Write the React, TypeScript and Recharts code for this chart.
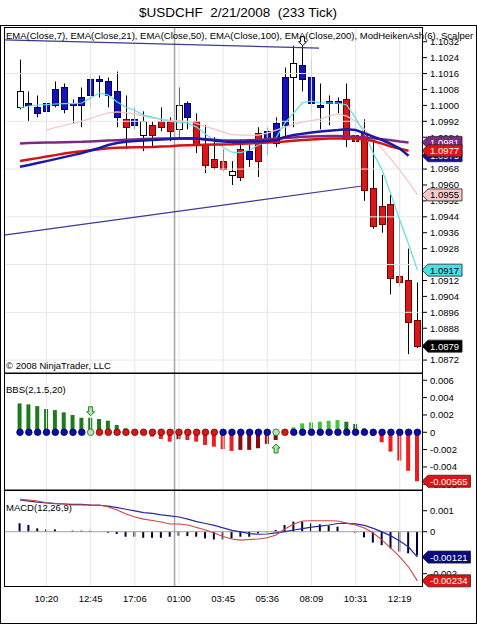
import React from "react";
import { ComposedChart, Bar, Line, XAxis, YAxis, ReferenceLine, ReferenceDot, Cell } from "recharts";

const FONT = "Arial, 'Liberation Sans', Helvetica, sans-serif";
const SMALL = 9.5;

// ── data ─────────────────────────────────────────────────────────
const labelBars = [3, 8, 13, 18, 23, 28, 33, 38, 43];
const timeLabels = ["10:20", "12:45", "17:06", "01:00", "03:45", "05:36", "08:09", "10:31", "12:19"];
const sessionBreaks = [17.5];

const opens = [1.0999, 1.1, 1.0999, 1.0997, 1.1, 1.1009, 1.1, 1.1, 1.1005, 1.1012, 1.1012, 1.1007, 1.0993, 1.099, 1.0985, 1.099, 1.0992, 1.0992, 1.0988, 1.0994, 1.0992, 1.098, 1.0973, 1.0972, 1.0965, 1.0978, 1.0973, 1.0986, 1.0983, 1.0981, 1.099, 1.1014, 1.102, 1.1014, 1.1, 1.1002, 1.1002, 1.1003, 1.0985, 1.0986, 1.0958, 1.0949, 1.095, 1.0914, 1.0912, 1.0892];
const highs = [1.1023, 1.1007, 1.1005, 1.1011, 1.1012, 1.1011, 1.1003, 1.1009, 1.1016, 1.1015, 1.1014, 1.1017, 1.1005, 1.0999, 1.0997, 1.0992, 1.0999, 1.0994, 1.1009, 1.1002, 1.0996, 1.099, 1.0984, 1.0978, 1.0972, 1.0983, 1.098, 1.0989, 1.0989, 1.0994, 1.1019, 1.103, 1.103, 1.1023, 1.1011, 1.1005, 1.1004, 1.1011, 1.0998, 1.0993, 1.0982, 1.0965, 1.0955, 1.0943, 1.0928, 1.0911];
const lows = [1.0998, 1.0992, 1.0994, 1.0988, 1.0999, 1.0996, 1.0991, 1.0989, 1.0999, 1.1004, 1.0999, 1.0989, 1.0978, 1.0988, 1.0977, 1.0979, 1.0987, 1.0982, 1.0984, 1.0988, 1.0976, 1.0966, 1.0968, 1.0967, 1.096, 1.0962, 1.0969, 1.0964, 1.0975, 1.0979, 1.0984, 1.0989, 1.1007, 1.0996, 1.0988, 1.099, 1.0996, 1.0979, 1.098, 1.0952, 1.0938, 1.0936, 1.0905, 1.0909, 1.0875, 1.0878];
const closes = [1.1007, 1.1001, 1.0996, 1.1001, 1.1008, 1.0998, 1.1001, 1.1004, 1.1013, 1.1013, 1.1005, 1.0994, 1.0989, 1.0993, 1.0992, 1.0985, 1.0989, 1.0987, 1.1, 1.1001, 1.098, 1.097, 1.0969, 1.0968, 1.0967, 1.0964, 1.0977, 1.0972, 1.0987, 1.0991, 1.1014, 1.1021, 1.1013, 1.1001, 1.0999, 1.1001, 1.1001, 1.0983, 1.0982, 1.0957, 1.0939, 1.094, 1.0913, 1.0911, 1.0891, 1.0879];
// heiken-ashi colouring: w = neutral, b = up, r = down
const tones = ["w", "b", "b", "b", "b", "b", "b", "b", "b", "b", "b", "b", "r", "b", "w", "r", "r", "r", "w", "b", "r", "r", "r", "r", "w", "r", "b", "r", "b", "b", "b", "w", "b", "b", "b", "b", "b", "r", "r", "r", "r", "r", "r", "r", "r", "r"];

const ema7 = [1.09988, 1.09997, 1.10002, 1.10004, 1.10007, 1.10009, 1.10009, 1.10012, 1.10037, 1.10062, 1.10052, 1.10017, 1.09992, 1.09974, 1.09951, 1.09941, 1.09929, 1.09919, 1.09916, 1.09911, 1.09891, 1.09856, 1.09823, 1.0979, 1.09765, 1.09763, 1.09776, 1.09801, 1.09815, 1.09838, 1.09911, 1.09962, 1.10014, 1.10022, 1.10012, 1.10012, 1.10012, 1.10002, 1.09936, 1.09861, 1.0976, 1.09675, 1.09554, 1.09424, 1.09303, 1.09172];
const ema21 = [null, null, null, 1.09876, 1.09889, 1.09899, 1.09909, 1.09921, 1.09934, 1.09949, 1.09962, 1.09967, 1.09964, 1.09957, 1.09946, 1.09936, 1.09931, 1.09926, 1.09924, 1.09919, 1.09909, 1.09894, 1.09881, 1.09866, 1.09853, 1.09851, 1.09851, 1.09851, 1.09861, 1.09876, 1.09891, 1.09906, 1.09916, 1.09924, 1.09931, 1.09946, 1.09957, 1.09946, 1.09921, 1.09881, 1.09831, 1.09781, 1.0973, 1.09675, 1.09615, 1.0955];
const ema50 = [1.09692, 1.097, 1.0971, 1.0972, 1.0973, 1.0974, 1.0975, 1.0976, 1.09773, 1.09786, 1.09801, 1.09811, 1.09817, 1.09821, 1.09823, 1.09826, 1.09828, 1.09831, 1.09833, 1.09835, 1.09833, 1.09828, 1.09823, 1.09818, 1.09816, 1.09816, 1.09818, 1.09818, 1.09821, 1.09826, 1.09841, 1.09851, 1.09858, 1.09864, 1.09869, 1.09873, 1.09876, 1.0988, 1.09876, 1.09861, 1.09843, 1.09826, 1.09806, 1.09783, 1.09747, null];
const ema100 = [1.0972, 1.09728, 1.09735, 1.09743, 1.0975, 1.09758, 1.09764, 1.09769, 1.09775, 1.0978, 1.09784, 1.09787, 1.09788, 1.09789, 1.0979, 1.09791, 1.09793, 1.09795, 1.09798, 1.098, 1.09801, 1.09802, 1.09803, 1.09804, 1.09805, 1.09807, 1.09809, 1.09811, 1.09813, 1.09815, 1.09818, 1.09822, 1.09826, 1.09829, 1.09831, 1.09833, 1.09834, 1.09835, 1.09833, 1.09828, 1.09821, 1.09808, 1.09793, 1.09782, 1.09772, null];
const ema200 = [1.09809, 1.09811, 1.09812, 1.09813, 1.09814, 1.09815, 1.09816, 1.09817, 1.09819, 1.09821, 1.09823, 1.09825, 1.09827, 1.09829, 1.09831, 1.09832, 1.09833, 1.09834, 1.09834, 1.09834, 1.09833, 1.0983, 1.09827, 1.09824, 1.09823, 1.09823, 1.09825, 1.09827, 1.0983, 1.09833, 1.09836, 1.09839, 1.09842, 1.09844, 1.09845, 1.09846, 1.09846, 1.09845, 1.09843, 1.09839, 1.09835, 1.0983, 1.09825, 1.09819, 1.09814, null];

// drawn trend lines: [bar, price] pairs
const upperTrend = [[-1.81, 1.10329], [33.86, 1.10288]];
const lowerTrend = [[-1.81, 1.09348], [38.73, 1.09595]];
const priceSignals = [{ bar: 32, dir: "down" }];

const bbs = [0.00333, 0.00322, 0.00302, 0.00268, 0.00256, 0.0023, 0.00199, 0.00168, 0.00168, 0.00153, 0.00133, 0.00084, 0.00046, 0.00005, -0.0001, -0.0005, -0.00077, -0.00108, -0.0008, -0.00089, -0.00108, -0.00146, -0.00166, -0.00195, -0.00215, -0.00203, -0.00203, -0.00184, -0.00134, -0.00089, 0, 0.00057, 0.00103, 0.00115, 0.00122, 0.00133, 0.00141, 0.00122, 0.00095, 0.00046, -0.00043, -0.00115, -0.00223, -0.00326, -0.00445, -0.00565];
// squeeze dots: b = blue, g = fired, r = red
const squeeze = ["b", "b", "b", "b", "b", "b", "b", "b", "g", "r", "r", "r", "r", "r", "r", "r", "r", "r", "r", "r", "r", "r", "r", "b", "b", "b", "b", "b", "b", "g", "r", "b", "b", "b", "b", "b", "b", "b", "b", "b", "b", "b", "b", "b", "b", "b"];
const bbsSignals = [{ bar: 8, dir: "down" }, { bar: 29, dir: "up" }];

const macd = [0.00154, 0.00151, 0.00146, 0.00138, 0.00134, 0.00132, 0.00127, 0.00127, 0.00127, 0.00127, 0.00118, 0.00103, 0.00084, 0.0007, 0.0006, 0.00053, 0.00046, 0.00037, 0.00037, 0.00032, 0.0002, 0.00008, -0.00006, -0.00023, -0.00035, -0.0004, -0.00037, -0.00035, -0.00029, -0.00016, 0.00013, 0.00037, 0.00051, 0.00052, 0.00052, 0.00052, 0.00051, 0.00041, 0.00032, 0.00018, -0.00006, -0.0004, -0.00078, -0.0012, -0.00168, -0.00234];
const signal = [0.00151, 0.00146, 0.00141, 0.00137, 0.00134, 0.00132, 0.0013, 0.0013, 0.00127, 0.00126, 0.00122, 0.00115, 0.00107, 0.00099, 0.00091, 0.00087, 0.0008, 0.00075, 0.0007, 0.0006, 0.00048, 0.00039, 0.0003, 0.00018, 0.00006, -0.00001, -0.00009, -0.00012, -0.00011, -0.00006, 0, 0.00008, 0.00015, 0.00022, 0.00027, 0.00032, 0.00039, 0.0004, 0.00037, 0.0003, 0.00016, -0.00001, -0.0002, -0.00044, -0.00073, -0.00121];
const hist = [0.0004, 0.00032, 0.00016, 0.00011, 0.00011, 0, 0.00005, 0.00005, 0.00005, 0, -0.00005, -0.00011, -0.00024, -0.00024, -0.00029, -0.00029, -0.00029, -0.00024, -0.00019, -0.00021, -0.00024, -0.00032, -0.00037, -0.00037, -0.00032, -0.00024, -0.00024, -0.00008, -0.00003, 0.00008, 0.00032, 0.00048, 0.00048, 0.0004, 0.00035, 0.0003, 0.00024, 0, -0.00005, -0.00027, -0.00052, -0.00064, -0.0008, -0.00095, -0.00103, -0.00113];

// labels that the value tags fully cover are left out, as on the original
const priceTicks = [1.1032, 1.1024, 1.1016, 1.1008, 1.1, 1.0992, 1.0984, 1.0968, 1.096, 1.0952, 1.0944, 1.0936, 1.0928, 1.0912, 1.0904, 1.0896, 1.0888, 1.0872];
const priceGrid = [1.1016, 1.0992, 1.0968, 1.0944, 1.092, 1.0896, 1.0872];
const bbsTicks = [0.006, 0.004, 0.002, 0, -0.002, -0.004, -0.006];
const macdTicks = [0.001, 0, -0.002];

// ── layout ───────────────────────────────────────────────────────
const W = 477;
const AXIS_W = 55;
const X_DOMAIN = [-1.81, 45.52];
const MARGIN = { top: 0, right: 0, bottom: 0, left: 4 };

const rows = opens.map((o, i) => ({
  i, o, h: highs[i], l: lows[i], c: closes[i], range: [lows[i], highs[i]], tone: tones[i],
  ema7: ema7[i], ema21: ema21[i], ema50: ema50[i], ema100: ema100[i], ema200: ema200[i],
  bbs: bbs[i], sq: squeeze[i], zero: 0,
  macd: macd[i], signal: signal[i], hist: hist[i],
}));

const lastOf = (arr: (number | null)[]) => {
  for (let k = arr.length - 1; k >= 0; k--) if (arr[k] != null) return arr[k] as number;
  return 0;
};

const CANDLE: Record<string, { fill: string; stroke: string }> = {
  w: { fill: "#ffffff", stroke: "#000000" },
  b: { fill: "#1212b8", stroke: "#00005a" },
  r: { fill: "#d81818", stroke: "#760000" },
};
const SQUEEZE: Record<string, { fill: string; stroke: string }> = {
  b: { fill: "#0c0ca8", stroke: "#000060" },
  g: { fill: "#b4e6b4", stroke: "#2a6a2a" },
  r: { fill: "#d21a1a", stroke: "#7a0000" },
};

function Candle(props: any) {
  const { x, y, width, height, payload } = props;
  if (!payload || x == null || y == null) return null;
  const top = Math.min(y, y + height);
  const span = Math.abs(height);
  const { o, h, l, c, tone } = payload;
  const k = h > l ? span / (h - l) : 0;
  const yOf = (v: number) => top + (h - v) * k;
  const cx = Math.round(x + width / 2) + 0.5;
  const bTop = yOf(Math.max(o, c));
  const bBot = yOf(Math.min(o, c));
  const s = CANDLE[tone];
  return (
    <g>
      <line x1={cx} x2={cx} y1={top} y2={top + span} stroke="#000" strokeWidth={1} />
      <rect x={cx - 3} y={bTop} width={6} height={Math.max(bBot - bTop, 1)} fill={s.fill} stroke={s.stroke} strokeWidth={1} shapeRendering="crispEdges" />
    </g>
  );
}

function BbsDot(props: any) {
  const { cx, cy, payload, index } = props;
  if (cx == null) return null;
  const s = SQUEEZE[payload.sq];
  return <circle key={`d${index}`} cx={cx} cy={cy} r={3.3} fill={s.fill} stroke={s.stroke} strokeWidth={0.8} />;
}

const bbsColor = (i: number) => {
  const v = bbs[i];
  const prev = i > 0 ? bbs[i - 1] : v;
  if (v >= 0) return v > prev ? "#3ec43e" : "#1c7c1c";
  return v < prev ? "#ee1c1c" : "#8a0a0a";
};

const arrow = (dir: string, gap: number, fill: string, stroke: string) => (p: any) => {
  const { cx, cy } = p;
  if (cx == null) return null;
  const s = dir === "down" ? -1 : 1;
  const ty = cy + s * gap;
  const pts = [[0, 0], [4, 4], [2, 4], [2, 9], [-2, 9], [-2, 4], [-4, 4]]
    .map(([dx, dy]) => `${cx + dx},${ty + s * dy}`).join(" ");
  return <polygon points={pts} fill={fill} stroke={stroke} strokeWidth={1} />;
};

const textWidth = (t: string) =>
  t.split("").reduce((w, ch) => w + (ch === "." ? 2.64 : ch === "-" ? 3.16 : 5.28), 0);

const tag = (text: string, fill: string, color: string) => (p: any) => {
  const { cx, cy } = p;
  if (cx == null) return null;
  const w = textWidth(text) + 11;
  const pts = `${cx},${cy} ${cx + 6},${cy - 6} ${cx + w},${cy - 6} ${cx + w},${cy + 6} ${cx + 6},${cy + 6}`;
  return (
    <g>
      <polygon points={pts} fill={fill} stroke="#222" strokeWidth={0.8} />
      <text x={cx + 8} y={cy} dy="0.36em" fontSize={SMALL} fill={color} fontFamily={FONT}>{text}</text>
    </g>
  );
};

const yAxisProps = {
  orientation: "right" as const,
  width: AXIS_W,
  allowDataOverflow: true,
  interval: 0 as const,
  axisLine: false,
  tickLine: { stroke: "#000" },
  tickSize: 5,
  tickMargin: 3,
  tick: { fontSize: SMALL, fill: "#000", fontFamily: FONT },
};

function vGrid() {
  return [
    ...labelBars.map((b) => <ReferenceLine key={`vg${b}`} x={b} stroke="#e6e6e6" />),
    ...sessionBreaks.map((b) => <ReferenceLine key={`sb${b}`} x={b} stroke="#a6a6a6" strokeWidth={1.5} />),
  ];
}

function PriceChart() {
  const tags = [
    { v: lastOf(ema50), fill: "#14149e", text: "#fff" },
    { v: lastOf(ema200), fill: "#7a2a82", text: "#fff" },
    { v: lastOf(ema100), fill: "#e01414", text: "#fff" },
    { v: lastOf(ema21), fill: "#f6c8c8", text: "#000" },
    { v: lastOf(ema7), fill: "#48e0e4", text: "#000" },
    { v: closes[closes.length - 1], fill: "#000", text: "#fff" },
  ];
  return (
    <ComposedChart width={W} height={346} data={rows} margin={MARGIN}>
      <XAxis dataKey="i" type="number" domain={X_DOMAIN} hide allowDataOverflow />
      <YAxis {...yAxisProps} domain={[1.08655, 1.10394]} ticks={priceTicks} tickFormatter={(v: number) => v.toFixed(4)} />
      {priceGrid.map((v) => <ReferenceLine key={`hg${v}`} y={v} stroke="#e6e6e6" />)}
      {vGrid()}
      <Bar dataKey="range" barSize={6} shape={Candle} isAnimationActive={false} />
      <Line dataKey="ema21" stroke="#f3c4c4" strokeWidth={1.2} dot={false} isAnimationActive={false} />
      <Line dataKey="ema7" stroke="#5ce0e6" strokeWidth={1.2} dot={false} isAnimationActive={false} />
      <Line dataKey="ema200" stroke="#7a2a82" strokeWidth={2.5} dot={false} isAnimationActive={false} />
      <Line dataKey="ema100" stroke="#d41414" strokeWidth={2.5} dot={false} isAnimationActive={false} />
      <Line dataKey="ema50" stroke="#1a1aa8" strokeWidth={2.5} dot={false} isAnimationActive={false} />
      {[upperTrend, lowerTrend].map((t, k) => (
        <ReferenceLine key={`tl${k}`} segment={[{ x: t[0][0], y: t[0][1] }, { x: t[1][0], y: t[1][1] }]} stroke="#3a3a9a" strokeWidth={1.2} ifOverflow="visible" />
      ))}
      {priceSignals.map((s) => (
        <ReferenceDot key={`ps${s.bar}`} x={s.bar} y={highs[s.bar]} r={0} ifOverflow="visible" shape={arrow(s.dir, 0, "#fff", "#000")} />
      ))}
      {tags.map((t, k) => (
        <ReferenceDot key={`pt${k}`} x={X_DOMAIN[1]} y={t.v} r={0} ifOverflow="visible" zIndex={2000} shape={tag(t.v.toFixed(4), t.fill, t.text)} />
      ))}
    </ComposedChart>
  );
}

function BbsChart() {
  return (
    <ComposedChart width={W} height={117} data={rows} margin={MARGIN}>
      <XAxis dataKey="i" type="number" domain={X_DOMAIN} hide allowDataOverflow />
      <YAxis {...yAxisProps} domain={[-0.00666, 0.00684]} ticks={bbsTicks} tickFormatter={(v: number) => (v === 0 ? "0" : String(v))} />
      {vGrid()}
      <Bar dataKey="bbs" barSize={4} isAnimationActive={false}>
        {rows.map((r) => <Cell key={`c${r.i}`} fill={bbsColor(r.i)} />)}
      </Bar>
      <Line dataKey="zero" stroke="none" dot={BbsDot} activeDot={false} isAnimationActive={false} />
      {bbsSignals.map((s) => (
        <ReferenceDot key={`bs${s.bar}`} x={s.bar} y={bbs[s.bar]} r={0} ifOverflow="visible" shape={arrow(s.dir, s.dir === "down" ? 2 : 4, "#a8e8a8", "#2a7a2a")} />
      ))}
      <ReferenceDot x={X_DOMAIN[1]} y={lastOf(bbs)} r={0} ifOverflow="visible" zIndex={2000} shape={tag(lastOf(bbs).toFixed(5), "#e01414", "#fff")} />
    </ComposedChart>
  );
}

function MacdChart() {
  return (
    <ComposedChart width={W} height={127} data={rows} margin={MARGIN}>
      <XAxis dataKey="i" type="number" domain={X_DOMAIN} allowDataOverflow ticks={labelBars} interval={0} height={30}
        axisLine={false} tickLine={false} tick={{ fontSize: SMALL, fill: "#000", fontFamily: FONT }}
        tickFormatter={(v: number) => timeLabels[labelBars.indexOf(v)] ?? ""} />
      <YAxis {...yAxisProps} domain={[-0.002633, 0.001986]} ticks={macdTicks} tickFormatter={(v: number) => (v === 0 ? "0" : String(v))} />
      {vGrid()}
      <ReferenceLine y={0} stroke="#a0a0a0" />
      <Bar dataKey="hist" barSize={2} fill="#000030" isAnimationActive={false} />
      <Line dataKey="signal" stroke="#2a2aa0" strokeWidth={1.2} dot={false} isAnimationActive={false} />
      <Line dataKey="macd" stroke="#cc4444" strokeWidth={1.1} dot={false} isAnimationActive={false} />
      <ReferenceDot x={X_DOMAIN[1]} y={lastOf(signal)} r={0} ifOverflow="visible" zIndex={2000} shape={tag(lastOf(signal).toFixed(5), "#0a0a80", "#fff")} />
      <ReferenceDot x={X_DOMAIN[1]} y={lastOf(macd)} r={0} ifOverflow="visible" zIndex={2000} shape={tag(lastOf(macd).toFixed(5), "#e01414", "#fff")} />
    </ComposedChart>
  );
}

export default function App() {
  return (
    <div style={{ position: "absolute", left: 0, top: 0, width: W, height: 625, background: "#fff", fontFamily: FONT, overflow: "hidden" }}>
      <div style={{ position: "absolute", left: 0, top: 27 }}><PriceChart /></div>
      <div style={{ position: "absolute", left: 0, top: 373 }}><BbsChart /></div>
      <div style={{ position: "absolute", left: 0, top: 490 }}><MacdChart /></div>
      <svg width={W} height={625} style={{ position: "absolute", left: 0, top: 0, pointerEvents: "none" }}>
        <text x={238} y={17} textAnchor="middle" fontSize={13.5} fill="#000" style={{ whiteSpace: "pre" }}>{"$USDCHF  2/21/2008  (233 Tick)"}</text>
        <rect x={0.5} y={25.5} width={476} height={598} fill="none" stroke="#000" />
        <rect x={4.5} y={27.5} width={418} height={345.5} fill="none" stroke="#000" />
        <rect x={4.5} y={373.5} width={418} height={116.5} fill="none" stroke="#000" />
        <rect x={4.5} y={490.5} width={418} height={96} fill="none" stroke="#000" />
        <g fontSize={SMALL} fill="#000">
          <text x={6} y={38.5}>EMA(Close,7), EMA(Close,21), EMA(Close,50), EMA(Close,100), EMA(Close,200), ModHeikenAsh(6), Scalper</text>
          <text x={6} y={369}>© 2008 NinjaTrader, LLC</text>
          <text x={6} y={393}>BBS(2,1.5,20)</text>
          <text x={6} y={510.5}>MACD(12,26,9)</text>
        </g>
      </svg>
    </div>
  );
}
